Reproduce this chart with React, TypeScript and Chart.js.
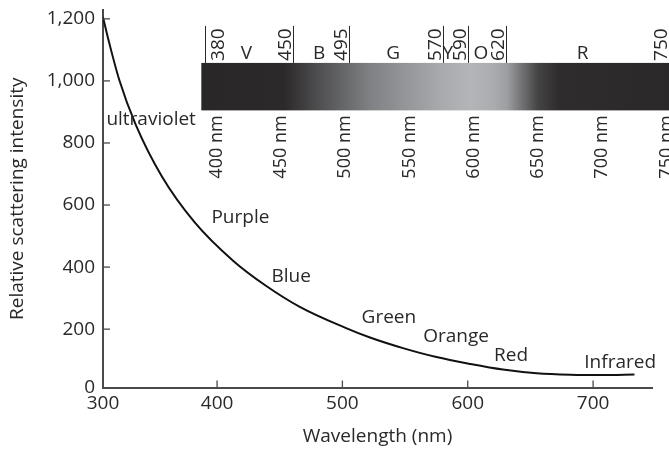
import React, { useEffect, useRef } from 'react';
import { Chart, registerables } from 'chart.js';

Chart.register(...registerables);

// Scattering curve
const wavelengthNm = [309, 314, 322, 335, 356, 382, 413, 439, 466, 502, 522, 549, 575, 602, 628, 655, 682, 708, 733];
const intensity = [1205, 1122, 1003, 860, 692, 545, 420, 340, 272, 205, 173, 138, 110, 88, 70, 58, 53, 52, 54];

// Axes
const xTickValues = [400, 500, 600, 700];
const xOriginLabel = '300';
const yTickValues = [200, 400, 600, 800, 1000, 1200];
const yOriginLabel = '0';

// Colour-name annotations along the curve: text, wavelength, intensity
const curveLabels = ['ultraviolet', 'Purple', 'Blue', 'Green', 'Orange', 'Red', 'Infrared'];
const curveLabelNm = [311.7, 395.5, 443.4, 515.3, 564.5, 621, 693];
const curveLabelValue = [858, 542, 353, 219, 160, 96, 76];

// Visible spectrum strip
const bandEdges = [380, 450, 495, 570, 590, 620, 750];
const bandNames = ['V', 'B', 'G', 'Y', 'O', 'R'];
const bandNameNm = [413, 471, 530, 573.5, 600, 681];
const stripTicksNm = [400, 450, 500, 550, 600, 650, 700, 750];
const stripStops: [number, string][] = [
  [377, '#2a2728'],
  [443, '#2c292a'],
  [455, '#3b393a'],
  [471, '#4f4f51'],
  [494, '#6a6b6d'],
  [511, '#7f8083'],
  [535, '#909295'],
  [567, '#a7a9ac'],
  [591, '#b3b5b8'],
  [610, '#aaacaf'],
  [621, '#9c9ea1'],
  [632, '#747476'],
  [646, '#444243'],
  [662, '#2f2c2d'],
  [760, '#2b2829'],
];

const FONT = "'Open Sans', 'Noto Sans', sans-serif";
const INK = '#2b2829';
const AXIS = '#4a4a4a';

const stripPlugin = {
  id: 'spectrumStrip',
  afterDraw(chart: any) {
    const { ctx } = chart;
    const band = chart.scales.band;
    const bandLbl = chart.scales.bandLabel;
    const y = chart.scales.y;
    const top = y.getPixelForValue(1058);
    const bottom = y.getPixelForValue(905);
    const x0 = band.getPixelForValue(377);
    const x1 = band.getPixelForValue(760);
    ctx.save();
    const g = ctx.createLinearGradient(x0, 0, x1, 0);
    stripStops.forEach(([nm, c]) => {
      const t = (band.getPixelForValue(nm) - x0) / (x1 - x0);
      g.addColorStop(Math.min(1, Math.max(0, t)), c);
    });
    ctx.fillStyle = g;
    ctx.fillRect(x0, top, x1 - x0, bottom - top);

    // boundary lines and their wavelengths
    ctx.strokeStyle = INK;
    ctx.lineWidth = 1;
    ctx.fillStyle = INK;
    ctx.font = `19px ${FONT}`;
    ctx.textBaseline = 'alphabetic';
    ctx.textAlign = 'left';
    bandEdges.forEach((nm, i) => {
      const px = Math.round(band.getPixelForValue(nm)) + 0.5;
      ctx.beginPath();
      ctx.moveTo(px, top - 37);
      ctx.lineTo(px, top);
      ctx.stroke();
      ctx.save();
      const bx = i === 0 ? px + 18 : px - 2.5;
      ctx.translate(bx, top - 2);
      ctx.rotate(-Math.PI / 2);
      ctx.fillText(String(nm), 0, 0);
      ctx.restore();
    });

    // band letters
    ctx.textAlign = 'center';
    bandNames.forEach((name, i) => {
      ctx.fillText(name, band.getPixelForValue(bandNameNm[i]), top - 4);
    });

    // wavelength marks under the strip
    ctx.font = `18px ${FONT}`;
    ctx.textAlign = 'right';
    stripTicksNm.forEach((nm) => {
      ctx.save();
      ctx.translate(bandLbl.getPixelForValue(nm), bottom + 5);
      ctx.rotate(-Math.PI / 2);
      ctx.fillText(`${nm} nm`, 0, 0);
      ctx.restore();
    });
    ctx.restore();
  },
};

const decorPlugin = {
  id: 'decor',
  afterDraw(chart: any) {
    const { ctx, chartArea } = chart;
    const x = chart.scales.x;
    const y = chart.scales.y;
    ctx.save();
    // inward tick marks
    ctx.strokeStyle = AXIS;
    ctx.lineWidth = 1.3;
    x.ticks.forEach((t: any, i: number) => {
      if (i === 0) return;
      const px = x.getPixelForValue(t.value);
      ctx.beginPath();
      ctx.moveTo(px, chartArea.bottom);
      ctx.lineTo(px, chartArea.bottom - 7);
      ctx.stroke();
    });
    y.ticks.forEach((t: any, i: number) => {
      if (i === 0) return;
      const py = y.getPixelForValue(t.value);
      ctx.beginPath();
      ctx.moveTo(chartArea.left, py);
      ctx.lineTo(chartArea.left + 7, py);
      ctx.stroke();
    });
    // colour names along the curve
    ctx.fillStyle = INK;
    ctx.font = `19px ${FONT}`;
    ctx.textAlign = 'left';
    ctx.textBaseline = 'alphabetic';
    curveLabels.forEach((txt, i) => {
      ctx.fillText(txt, x.getPixelForValue(curveLabelNm[i]), y.getPixelForValue(curveLabelValue[i]));
    });
    ctx.restore();
  },
};

export default function App() {
  const canvasRef = useRef<HTMLCanvasElement | null>(null);

  useEffect(() => {
    if (!canvasRef.current) return;
    const chart = new Chart(canvasRef.current, {
      type: 'line',
      data: {
        datasets: [
          {
            data: wavelengthNm.map((w, i) => ({ x: w, y: intensity[i] })),
            borderColor: '#111111',
            borderWidth: 2,
            pointRadius: 0,
            cubicInterpolationMode: 'monotone',
            fill: false,
          },
        ],
      },
      options: {
        responsive: false,
        animation: false,
        layout: { padding: { top: 10, right: 17, left: 0, bottom: 0 } },
        plugins: { legend: { display: false }, tooltip: { enabled: false } },
        scales: {
          x: {
            type: 'linear',
            position: 'bottom',
            min: 309,
            max: 747,
            afterFit: (s: any) => {
              s.height = 63.5;
              s.paddingLeft = 0;
              s.paddingRight = 0;
            },
            afterBuildTicks: (s: any) => {
              s.ticks = [s.min, ...xTickValues].map((v) => ({ value: v }));
            },
            grid: { display: false, drawTicks: false },
            border: { display: true, color: AXIS, width: 2 },
            ticks: {
              padding: 5,
              color: INK,
              font: { family: FONT, size: 19 },
              maxRotation: 0,
              callback: (v: any, i: number) => (i === 0 ? xOriginLabel : String(v)),
            },
            title: {
              display: true,
              text: 'Wavelength (nm)',
              color: INK,
              font: { family: FONT, size: 19 },
              padding: { top: 0, bottom: 3 },
            },
          },
          y: {
            type: 'linear',
            min: 12,
            max: 1228.5,
            afterFit: (s: any) => {
              s.width = 103;
              s.paddingTop = 0;
              s.paddingBottom = 0;
            },
            afterBuildTicks: (s: any) => {
              s.ticks = [s.min, ...yTickValues].map((v) => ({ value: v }));
            },
            grid: { display: false, drawTicks: false },
            border: { display: true, color: AXIS, width: 2 },
            ticks: {
              padding: 8,
              color: INK,
              font: { family: FONT, size: 19 },
              callback: (v: any, i: number) =>
                i === 0 ? yOriginLabel : Number(v).toLocaleString('en-US'),
            },
            title: {
              display: true,
              text: 'Relative scattering intensity',
              color: INK,
              font: { family: FONT, size: 19 },
              padding: { top: 6, bottom: 0 },
            },
          },
          band: { type: 'linear', axis: 'x', display: false, min: 298.6, max: 736.4 },
          bandLabel: { type: 'linear', axis: 'x', display: false, min: 307.7, max: 734.7 },
        },
      },
      plugins: [stripPlugin, decorPlugin],
    } as any);
    return () => chart.destroy();
  }, []);

  return (
    <div style={{ position: 'absolute', left: 0, top: 0, width: 669, height: 451 }}>
      <canvas ref={canvasRef} width={669} height={451} style={{ display: 'block' }} />
    </div>
  );
}
